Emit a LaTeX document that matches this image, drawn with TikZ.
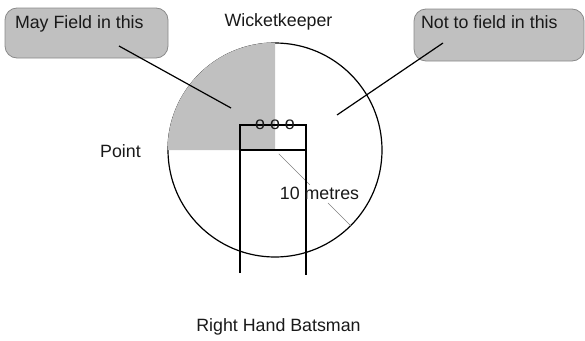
\documentclass[tikz,border=0pt]{standalone}
\usepackage{fontspec}
\setmainfont{Liberation Sans}
\usetikzlibrary{calc}
\definecolor{fieldgrey}{HTML}{C0C0C0}
\definecolor{boxedge}{HTML}{8A8A8A}
\tikzset{
  lbl/.style={inner sep=0pt, outer sep=0pt, font=\fontsize{17.8}{21}\selectfont, text=black!90},
  callout/.style={draw=boxedge, fill=fieldgrey, rounded corners=12pt, line width=0.8pt},
  blk/.style={draw=black, line width=1.2pt},
  pointer/.style={draw=black, line width=1.2pt},
  radius line/.style={draw=gray, line width=0.6pt}
}
\begin{document}
\begin{tikzpicture}[x=1pt,y=-1pt]
\useasboundingbox (0,0) rectangle (585,340);
% field circle
\draw[blk] (275,150) circle (107);
\fill[fieldgrey] (275,150) -- (167.5,150) arc[start angle=180, end angle=270, radius=107.5] -- cycle;
% radius line (10 metres)
\coordinate (c) at (275,150);
\coordinate (rim) at (350.7,225.7);
\draw[radius line] ($(c)!0.05!(rim)$) -- ($(c)!0.46!(rim)$);
\draw[radius line] ($(c)!0.70!(rim)$) -- (rim);
% pitch
\draw[blk] (240,273) -- (240,125) -- (306,125) -- (306,275);
\draw[blk] (240,150) -- (306,150);
% stumps
\node[lbl, anchor=base] (stumps) at (275,129) {o o o};
% callouts
\draw[callout] (5,8) rectangle (168,58);
\node[lbl, anchor=base west] (may) at (15,28) {May Field in this};
\draw[callout] (414,9) rectangle (584,61);
\node[lbl, anchor=base west] (not) at (421,28) {Not to field in this};
\coordinate (mayfrom) at (119,46);
\coordinate (mayto) at (231,108);
\coordinate (notfrom) at (443,43);
\coordinate (notto) at (337,115);
\draw[pointer] (mayfrom) -- (mayto);
\draw[pointer] (notfrom) -- (notto);
% labels
\node[lbl, anchor=base] (wk) at (278.5,26) {Wicketkeeper};
\node[lbl, anchor=base] (pt) at (120.5,157) {Point};
\node[lbl, anchor=base] (ten) at (319.5,199) {10 metres};
\node[lbl, anchor=base] (rhb) at (278.5,331) {Right Hand Batsman};
\end{tikzpicture}
\end{document}
